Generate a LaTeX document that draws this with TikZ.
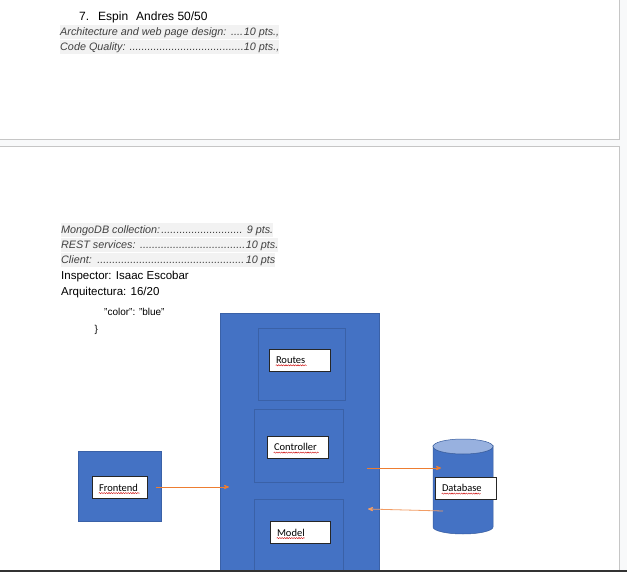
\documentclass[tikz,border=0pt]{standalone}
\usepackage{fontspec}
\setmainfont{Liberation Sans}
\newfontfamily\calfont{Carlito}
\usetikzlibrary{arrows,decorations.pathmorphing}

\definecolor{docblue}{HTML}{4472C4}
\definecolor{docorange}{HTML}{ED7D31}
\definecolor{pagegap}{HTML}{F8F9FA}
\definecolor{pageline}{HTML}{C6C6C6}
\newcommand{\ptsfill}{\cleaders\hbox{.}\hfill}
\newcommand{\ptsline}[2]{\hbox to #1{#2}}

\begin{document}
\begin{tikzpicture}[x=1pt,y=-1pt,>=stealth',
    score/.style={anchor=west,fill=black!5,text=black!75,inner sep=0pt,minimum height=14pt,
      font=\itshape\fontsize{10.8}{13}\selectfont},
    plain/.style={anchor=west,inner sep=0pt,font=\fontsize{11.5}{14}\selectfont},
    block/.style={anchor=north west,fill=docblue,draw=docblue!85!black,line width=0.6pt,inner sep=0pt},
    tag/.style={draw=black!85,fill=white,line width=0.7pt,inner xsep=7pt,minimum height=22pt,
      text width=#1,align=left,font=\calfont\fontsize{10.5}{12}\selectfont},
    link/.style={->,draw=docorange,line width=0.8pt},
    squiggle/.style={draw=red!80!black,line width=0.4pt,decorate,
      decoration={snake,amplitude=0.6pt,segment length=2.4pt}}]

  \useasboundingbox (0,0) rectangle (627,572);
  \fill[pagegap] (0,0) rectangle (627,572);
  % two pages of the document
  \fill[white] (0,0) rectangle (619,139);
  \fill[white] (0,146.5) rectangle (619,572);
  \draw[pageline,line width=0.8pt] (0,139) -- (619,139) -- (619,0);
  \draw[pageline,line width=0.8pt] (0,146.5) -- (619,146.5) -- (619,572);

  % grades
  \node[plain,font=\fontsize{12}{14}\selectfont] (title) at (79,17) {7.\hspace{9pt}Espin\hspace{8pt}Andres 50/50};
  \node[score] (arch) at (60,32.5) {\ptsline{219pt}{Architecture and web page design: \ptsfill10 pts.,}};
  \node[score] (quality) at (60,47.5) {\ptsline{219pt}{Code Quality: \ptsfill10 pts.,}};

  \node[score] (mongo) at (61,230.5) {\ptsline{212pt}{MongoDB collection:\ptsfill\ 9 pts.}};
  \node[score] (rest) at (61,245.5) {\ptsline{217pt}{REST services: \ptsfill10 pts.}};
  \node[score] (client) at (61,260.5) {\ptsline{214pt}{Client: \ptsfill10 pts}};
  \node[plain] (inspector) at (61,277) {Inspector: Isaac Escobar};
  \node[plain] (arqui) at (61,292.5) {Arquitectura: 16/20};
  \node[plain,font=\fontsize{10}{12}\selectfont] (color) at (104,312) {"color": "blue"};
  \node[plain,font=\fontsize{10}{12}\selectfont] (brace) at (94.5,330) {\}};

  % architecture diagram
  \node[block,minimum width=159pt,minimum height=262pt] (backend) at (220,313) {};
  \node[block,minimum width=87pt,minimum height=72pt] (routes box) at (258,328) {};
  \node[block,minimum width=89pt,minimum height=73pt] (ctrl box) at (254,409) {};
  \node[block,minimum width=89pt,minimum height=80pt] (model box) at (254,499) {};
  \node[block,minimum width=83pt,minimum height=70pt] (frontend) at (78,451) {};

  % database cylinder
  \filldraw[fill=docblue,draw=docblue!80!black,line width=0.5pt]
    (433,446.5) -- (433,527) arc[start angle=180,end angle=0,x radius=30,y radius=7]
    -- (493,446.5) arc[start angle=0,end angle=180,x radius=30,y radius=7.5] -- cycle;
  \filldraw[fill=docblue!55!white,draw=docblue!80!black,line width=0.5pt]
    (463,446.5) ellipse[x radius=30,y radius=7.5];

  \node[tag=47pt] (routes) at (299.5,360) {Routes};
  \node[tag=47pt] (controller) at (297.5,447) {Controller};
  \node[tag=46pt] (model) at (300,532.5) {Model};
  \node[tag=41pt] (front) at (119.5,487.5) {Frontend};
  \node[tag=47pt] (db) at (465.5,488) {Database};

  \foreach \n/\w in {routes/31,controller/45,model/28,front/41,db/39}
    \draw[squiggle] ([xshift=7pt,yshift=-2pt]\n.base west) -- ++(\w,0);

  \coordinate (fe out) at (156,487);
  \coordinate (be in) at (229,487);
  \coordinate (be out) at (367,468);
  \coordinate (db in) at (441,468);
  \coordinate (db out) at (443,511);
  \coordinate (be back) at (368,509);
  \draw[link] (fe out) -- (be in);
  \draw[link] (be out) -- (db in);
  \draw[link,draw=docorange!75] (db out) -- (be back);

  \fill[black!80] (0,569.5) rectangle (627,572);
\end{tikzpicture}
\end{document}
